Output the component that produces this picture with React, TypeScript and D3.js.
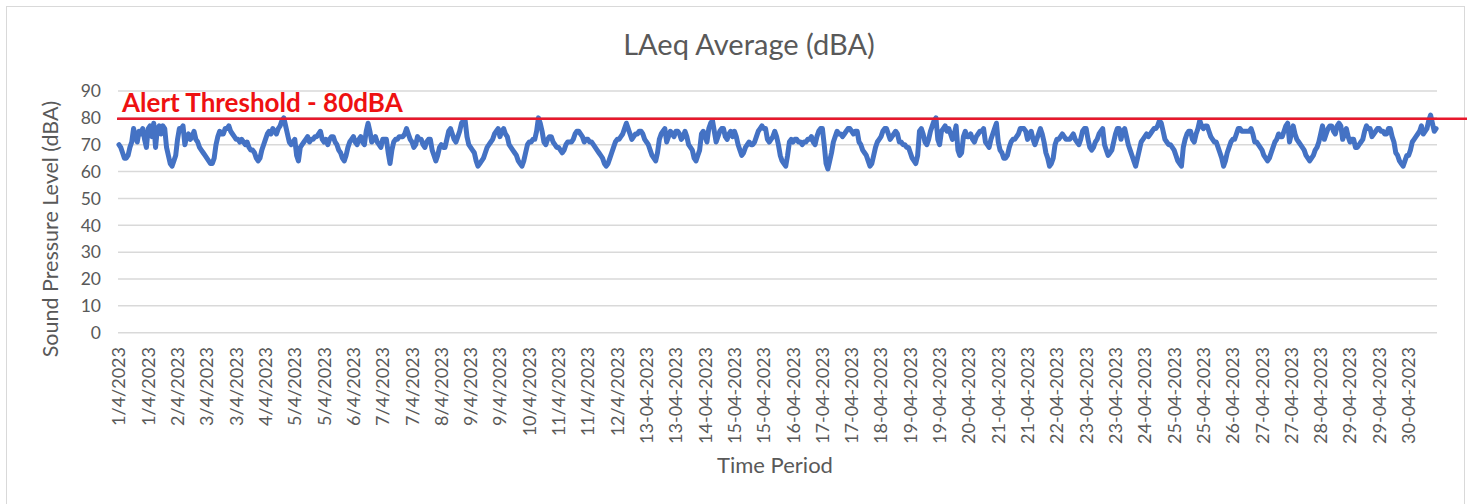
import * as d3 from "d3";

// hourly LAeq readings, 1 Apr 2023 00:00 -> 30 Apr 2023 23:00 (one row per day)
const laeq: number[] = [
  70, 69, 67, 65, 65, 66, 69, 71, 76, 73, 71, 75, 74, 76, 72, 69, 76, 77, 73, 78, 69, 76, 77, 74,
  77, 76, 69, 66, 63, 62, 64, 66, 72, 76, 76, 77, 70, 73, 74, 72, 73, 75, 72, 71, 69, 68, 67, 66,
  65, 64, 63, 63, 65, 70, 73, 75, 74, 74, 76, 76, 77, 75, 74, 73, 72, 72, 71, 72, 71, 70, 71, 69,
  68, 68, 67, 65, 64, 65, 68, 70, 72, 74, 75, 74, 76, 75, 74, 76, 77, 79, 80, 77, 74, 71, 70, 71,
  72, 66, 64, 69, 70, 71, 72, 73, 71, 72, 72, 73, 73, 74, 75, 72, 71, 72, 70, 72, 73, 73, 71, 70,
  68, 67, 65, 64, 66, 69, 71, 72, 73, 71, 70, 72, 73, 71, 70, 75, 78, 75, 71, 72, 73, 71, 70, 69,
  72, 72, 72, 67, 63, 68, 71, 72, 72, 73, 73, 73, 74, 76, 74, 72, 71, 69, 70, 73, 72, 72, 70, 69,
  71, 72, 72, 68, 66, 64, 66, 69, 70, 69, 69, 72, 75, 76, 74, 72, 71, 73, 75, 78, 79, 79, 73, 70,
  69, 68, 67, 64, 62, 63, 64, 65, 67, 69, 70, 71, 72, 74, 75, 76, 73, 75, 76, 74, 73, 70, 69, 68,
  67, 66, 64, 63, 62, 64, 67, 70, 71, 71, 72, 72, 75, 80, 78, 75, 71, 70, 72, 73, 73, 71, 70, 69,
  69, 68, 67, 68, 70, 71, 71, 71, 72, 74, 75, 75, 74, 73, 71, 72, 72, 71, 71, 70, 69, 68, 67, 66,
  65, 63, 62, 63, 65, 67, 69, 71, 72, 72, 73, 74, 76, 78, 76, 74, 72, 73, 74, 74, 75, 75, 74, 72,
  71, 70, 68, 66, 65, 64, 67, 72, 74, 75, 76, 71, 73, 75, 74, 73, 75, 75, 74, 72, 73, 75, 73, 70,
  69, 68, 65, 64, 66, 68, 74, 75, 73, 71, 76, 78, 79, 75, 71, 73, 75, 76, 76, 73, 72, 74, 75, 73,
  75, 73, 70, 68, 66, 67, 69, 70, 71, 70, 70, 71, 73, 75, 76, 77, 76, 76, 72, 71, 72, 73, 75, 73,
  70, 66, 64, 63, 62, 66, 71, 72, 71, 72, 72, 71, 71, 70, 71, 71, 72, 72, 73, 71, 70, 73, 75, 76,
  76, 70, 63, 61, 64, 67, 71, 73, 75, 74, 74, 73, 74, 75, 76, 76, 75, 74, 75, 75, 71, 70, 68, 67,
  66, 64, 62, 63, 66, 69, 71, 72, 73, 75, 76, 76, 74, 72, 73, 74, 75, 74, 71, 71, 70, 70, 69, 69,
  67, 65, 64, 63, 66, 75, 76, 74, 71, 70, 72, 75, 77, 79, 80, 72, 70, 75, 76, 77, 75, 76, 74, 72,
  74, 77, 68, 66, 67, 73, 75, 73, 73, 74, 72, 71, 73, 74, 75, 75, 76, 71, 70, 69, 72, 74, 76, 78,
  71, 68, 67, 65, 65, 66, 69, 71, 72, 72, 73, 74, 76, 76, 76, 75, 72, 74, 75, 72, 70, 72, 74, 76,
  74, 71, 67, 65, 62, 63, 65, 70, 72, 72, 73, 74, 73, 72, 72, 72, 73, 74, 72, 71, 70, 72, 75, 76,
  76, 72, 69, 68, 69, 71, 72, 74, 75, 76, 70, 68, 66, 67, 68, 71, 74, 76, 76, 72, 75, 76, 73, 70,
  68, 66, 64, 62, 65, 68, 71, 72, 73, 74, 73, 74, 75, 76, 76, 77, 79, 78, 75, 72, 71, 70, 70, 69,
  68, 66, 64, 63, 62, 69, 72, 74, 75, 75, 72, 71, 74, 76, 79, 77, 76, 77, 77, 75, 73, 72, 71, 71,
  69, 67, 65, 62, 64, 67, 69, 71, 72, 72, 74, 76, 76, 75, 75, 75, 75, 75, 76, 74, 71, 71, 70, 69,
  68, 66, 65, 64, 65, 67, 69, 71, 72, 74, 73, 73, 75, 77, 78, 71, 74, 77, 74, 72, 71, 70, 69, 68,
  66, 65, 64, 65, 66, 68, 69, 71, 74, 77, 72, 74, 76, 77, 77, 75, 74, 77, 78, 77, 72, 74, 76, 73,
  71, 72, 72, 69, 69, 70, 71, 72, 75, 77, 76, 76, 73, 74, 75, 76, 76, 75, 75, 74, 74, 76, 76, 73,
  71, 67, 66, 64, 63, 62, 64, 66, 66, 68, 71, 72, 73, 74, 75, 77, 74, 75, 76, 79, 81, 78, 75, 76,
];

const threshold = 80;
const yTicks = [0, 10, 20, 30, 40, 50, 60, 70, 80, 90];

// Excel shows a label every 16th category
const labelStep = 16;
const xLabels = [
  "1/4/2023", "1/4/2023", "2/4/2023", "3/4/2023", "3/4/2023", "4/4/2023", "5/4/2023", "5/4/2023",
  "6/4/2023", "7/4/2023", "7/4/2023", "8/4/2023", "9/4/2023", "9/4/2023", "10/4/2023", "11/4/2023",
  "11/4/2023", "12/4/2023", "13-04-2023", "13-04-2023", "14-04-2023", "15-04-2023", "15-04-2023",
  "16-04-2023", "17-04-2023", "17-04-2023", "18-04-2023", "19-04-2023", "19-04-2023", "20-04-2023",
  "21-04-2023", "21-04-2023", "22-04-2023", "23-04-2023", "23-04-2023", "24-04-2023", "25-04-2023",
  "25-04-2023", "26-04-2023", "27-04-2023", "27-04-2023", "28-04-2023", "29-04-2023", "29-04-2023",
  "30-04-2023",
];

const FONT = "Lato, 'Open Sans', sans-serif";
const GREY = "#595959";

export default function App() {
  const width = 1470;
  const height = 504;
  const plot = { left: 118, right: 1437, top: 91, bottom: 332.7 };

  const x = d3
    .scaleBand<number>()
    .domain(d3.range(laeq.length))
    .range([plot.left, plot.right]);
  const cx = (i: number) => (x(i) ?? 0) + x.bandwidth() / 2;

  const y = d3.scaleLinear().domain([0, 90]).range([plot.bottom, plot.top]);

  const line = d3
    .line<number>()
    .x((_, i) => cx(i))
    .y((d) => y(d));

  return (
    <svg
      width={width}
      height={height}
      style={{ position: "absolute", left: 0, top: 0, background: "#fff" }}
      fontFamily={FONT}
    >
      <rect x={6.5} y={6.5} width={1458} height={510} fill="#fff" stroke="#d9d9d9" />

      <text x={749} y={55} textAnchor="middle" fontSize={29} fill={GREY}>
        LAeq Average (dBA)
      </text>

      {/* gridlines + y ticks */}
      {yTicks.map((t) => (
        <g key={t}>
          <line x1={plot.left} x2={plot.right} y1={y(t)} y2={y(t)} stroke="#d9d9d9" strokeWidth={1.5} />
          <text x={101} y={y(t)} dy="0.36em" textAnchor="end" fontSize={17.5} fill={GREY}>
            {t}
          </text>
        </g>
      ))}

      {/* x tick labels */}
      {xLabels.map((lab, k) => {
        const px = cx(k * labelStep);
        return (
          <text
            key={k}
            transform={`translate(${px},347) rotate(-90)`}
            dy="0.36em"
            textAnchor="end"
            fontSize={18}
            fill={GREY}
          >
            {lab}
          </text>
        );
      })}

      <text
        transform="translate(58,229) rotate(-90)"
        textAnchor="middle"
        fontSize={21.5}
        fill={GREY}
      >
        Sound Pressure Level  (dBA)
      </text>
      <text x={775} y={473} textAnchor="middle" fontSize={22} fill={GREY}>
        Time Period
      </text>

      {/* series */}
      <path
        d={line(laeq) ?? ""}
        fill="none"
        stroke="#4472c4"
        strokeWidth={5}
        strokeLinejoin="round"
        strokeLinecap="round"
      />

      {/* alert threshold */}
      <line
        x1={plot.left - 1}
        x2={width - 3}
        y1={y(threshold) + 1}
        y2={y(threshold) + 1}
        stroke="#e8182c"
        strokeWidth={2.5}
      />
      <text x={122} y={112} fontSize={26} fontWeight="bold" fill="#ee1111">
        Alert Threshold - 80dBA
      </text>
    </svg>
  );
}
